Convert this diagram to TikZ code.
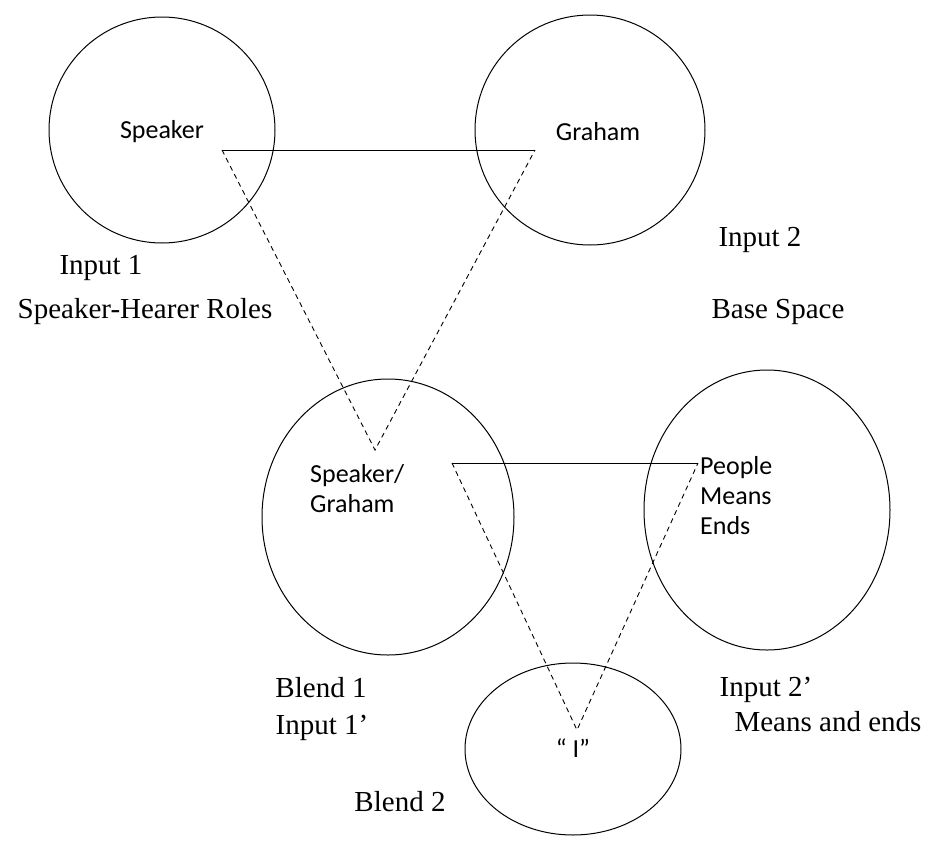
\documentclass[tikz,border=0pt]{standalone}
\usepackage{fontspec}
\setmainfont{Liberation Serif}
\setsansfont{Carlito}
\begin{document}
\begin{tikzpicture}[x=1pt,y=-1pt,
  circ/.style={draw,line width=1pt},
  lbl/.style={font=\fontsize{29}{34}\selectfont},
  sl/.style={font=\sffamily\fontsize{26}{30}\selectfont,align=left,inner sep=0pt},
  dl/.style={dash pattern=on 5pt off 4pt,line width=0.9pt},
  sld/.style={line width=0.9pt}]
\useasboundingbox (0,0) rectangle (946,844);
\draw[circ] (162,130) circle (113);
\draw[circ] (590,130) circle (115);
\draw[circ] (388,517) ellipse (126 and 138);
\draw[circ] (767,510) ellipse (123 and 140);
\draw[circ] (573,749) ellipse (108 and 86);
\coordinate (a) at (222,150); \coordinate (b) at (535,150); \coordinate (c) at (375,450);
\coordinate (d) at (452,463); \coordinate (e) at (698,463); \coordinate (f) at (577,730);
\draw[sld] (a) -- (b); \draw[dl] (a) -- (c) -- (b);
\draw[sld] (d) -- (e); \draw[dl] (d) -- (f) -- (e);
\node[sl] (t1) at (162,132) {Speaker};
\node[sl] (t2) at (598,132) {Graham};
\node[sl,anchor=west] (t3) at (310,489) {Speaker/\\Graham};
\node[sl,anchor=west] (t4) at (700,496) {People\\Means\\Ends};
\node[sl] (t5) at (573,748) {“ I”};
\node[lbl] (l1) at (101,268) {Input 1};
\node[lbl] (l2) at (145,312) {Speaker-Hearer Roles};
\node[lbl] (l3) at (760,240) {Input 2};
\node[lbl] (l4) at (778,312) {Base Space};
\node[lbl] (l5) at (321,688) {Blend 1};
\node[lbl] (l6) at (322,728) {Input 1’};
\node[lbl] (l7) at (766,690) {Input 2’};
\node[lbl] (l8) at (828,722) {Means and ends};
\node[lbl] (l9) at (400,802) {Blend 2};
\end{tikzpicture}
\end{document}
